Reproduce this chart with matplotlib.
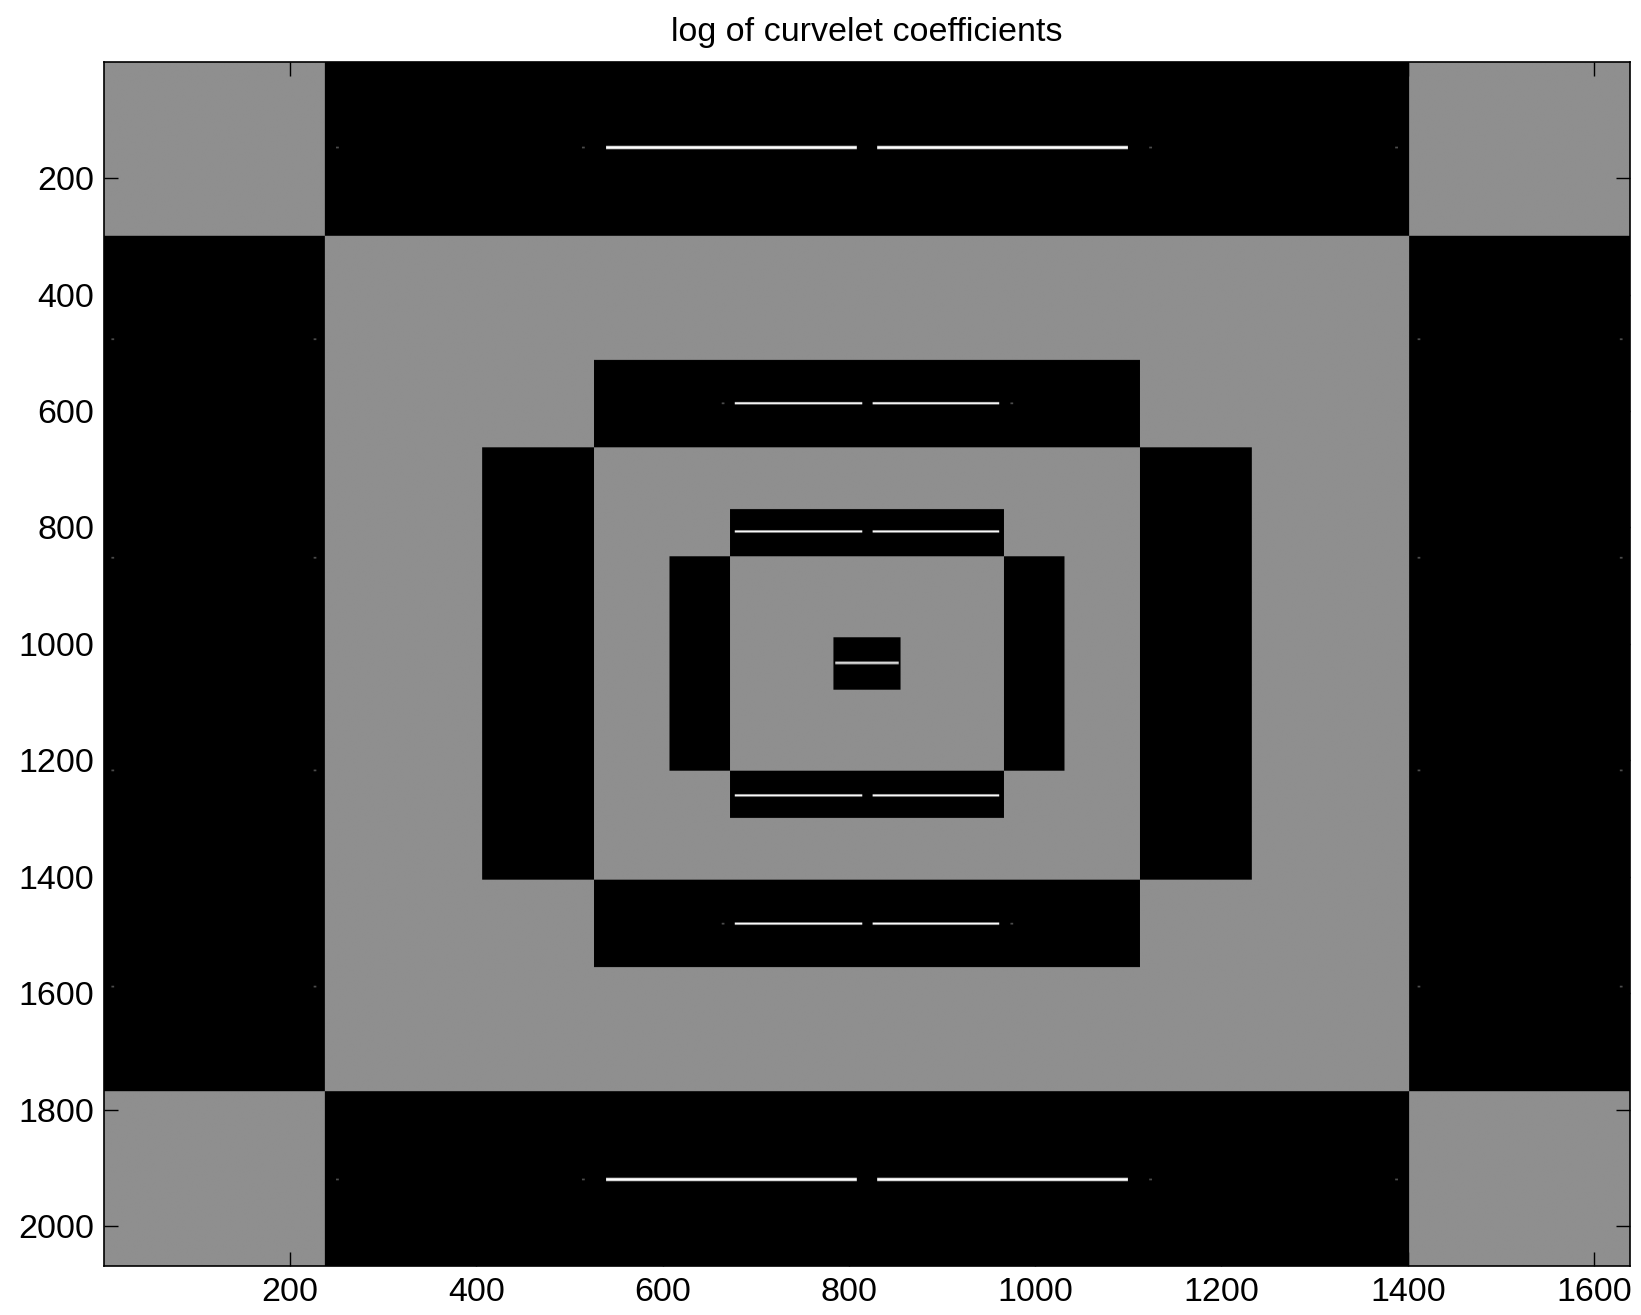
import matplotlib

matplotlib.use("Agg")
import matplotlib.pyplot as plt
import numpy as np

# image size (columns, rows) of the coefficient mosaic
N_COLS = 1638
N_ROWS = 2068

# grey level for the empty parts, black for the coefficient blocks
EMPTY_LEVEL = 0.56
BLOCK_LEVEL = 0.0

# black coefficient blocks: (col0, col1, row0, row1), 0-based, half open
BLOCKS = [
    # outer scale
    (237, 1401, 0, 300),
    (237, 1401, 1768, 2068),
    (0, 237, 300, 1768),
    (1401, 1638, 300, 1768),
    # middle scale
    (526, 1112, 513, 663),
    (526, 1112, 1405, 1555),
    (406, 526, 663, 1405),
    (1112, 1232, 663, 1405),
    # inner scale
    (672, 966, 769, 850),
    (672, 966, 1218, 1299),
    (607, 672, 850, 1218),
    (966, 1031, 850, 1218),
    # coarse scale
    (783, 855, 989, 1079),
]

# bright coefficient lines: row, col0, col1
LINE_ROWS = [148, 148, 1919, 1919, 587, 587, 1480, 1480, 807, 807, 1260, 1260, 1033]
LINE_COL0 = [539, 830, 539, 830, 677, 825, 677, 825, 677, 825, 677, 825, 785]
LINE_COL1 = [808, 1099, 808, 1099, 814, 961, 814, 961, 814, 961, 814, 961, 853]
LINE_PROFILE_WIDE = [0.35, 0.85, 1.0, 1.0, 1.0, 0.85, 0.35]
LINE_PROFILE_THIN = [0.45, 1.0, 1.0, 0.9, 0.3]
LINE_PROFILE_CENTER = [0.4, 0.5, 1.0, 1.0, 0.5, 0.4]

# faint isolated coefficients: row, col, level
DOT_ROWS = [148, 148, 148, 148, 1919, 1919, 1919, 1919,
            587, 587, 1480, 1480,
            477, 852, 1217, 1588, 477, 852, 1217, 1588,
            477, 852, 1217, 1588, 477, 852, 1217, 1588]
DOT_COLS = [250, 514, 1123, 1387, 250, 514, 1123, 1387,
            664, 974, 664, 974,
            9, 9, 9, 9, 226, 226, 226, 226,
            1411, 1411, 1411, 1411, 1628, 1628, 1628, 1628]
DOT_LEVEL = 0.3

X_TICKS = [200, 400, 600, 800, 1000, 1200, 1400, 1600]
Y_TICKS = [200, 400, 600, 800, 1000, 1200, 1400, 1600, 1800, 2000]
TITLE = "log of curvelet coefficients"


def build_image():
    img = np.full((N_ROWS, N_COLS), EMPTY_LEVEL)
    for c0, c1, r0, r1 in BLOCKS:
        img[r0:r1, c0:c1] = BLOCK_LEVEL
    for i, (r, c0, c1) in enumerate(zip(LINE_ROWS, LINE_COL0, LINE_COL1)):
        if i < 4:
            prof = LINE_PROFILE_WIDE
        elif i == len(LINE_ROWS) - 1:
            prof = LINE_PROFILE_CENTER
        else:
            prof = LINE_PROFILE_THIN
        half = len(prof) // 2
        for k, v in enumerate(prof):
            img[r - half + k, c0:c1] = np.maximum(img[r - half + k, c0:c1], v)
    for r, c in zip(DOT_ROWS, DOT_COLS):
        img[r - 1:r + 2, c - 1:c + 2] = DOT_LEVEL
    return img


def main():
    plt.rcParams["font.family"] = ["Liberation Sans", "DejaVu Sans"]
    fig = plt.figure(figsize=(16.41, 13.15), dpi=100)
    ax = fig.add_axes([0.0634, 0.0373, 0.9299, 0.9156])

    ax.imshow(build_image(), cmap="gray", vmin=0, vmax=1, aspect="auto",
              interpolation="antialiased",
              extent=(0.5, N_COLS + 0.5, N_ROWS + 0.5, 0.5))

    ax.set_xticks(X_TICKS)
    ax.set_yticks(Y_TICKS)
    ax.tick_params(direction="in", length=10, width=1.0, labelsize=24.5,
                   top=True, right=True, pad=7, color="black")
    ax.tick_params(axis="x", pad=8)
    for s in ax.spines.values():
        s.set_linewidth(1.2)
    ax.set_title(TITLE, fontsize=24.5, pad=15)

    fig.savefig("out.png", dpi=100)
    plt.close(fig)


if __name__ == "__main__":
    main()
